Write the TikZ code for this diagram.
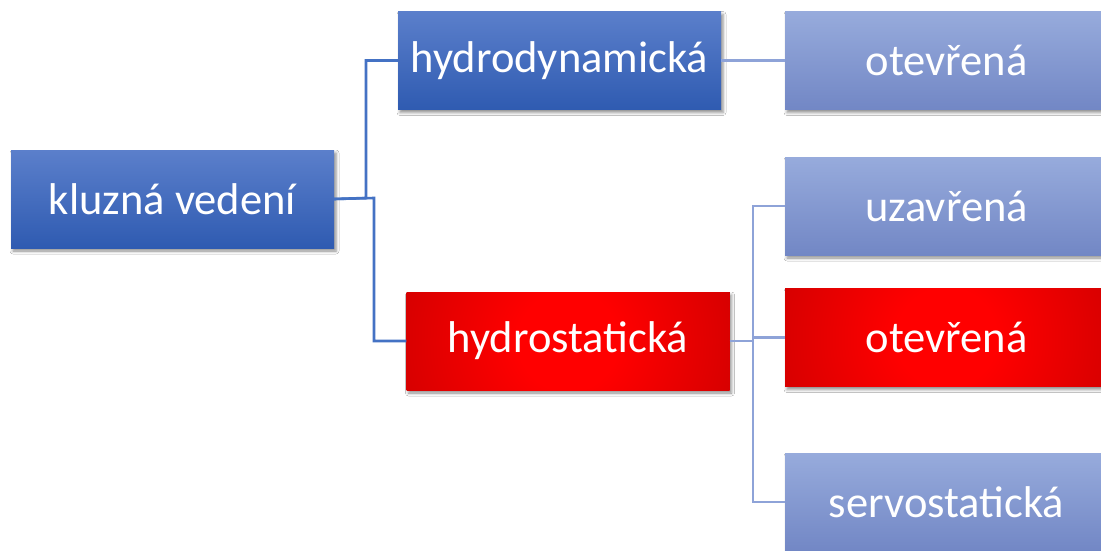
\documentclass[tikz,border=0pt]{standalone}
\usepackage{fontspec}
\setmainfont{Carlito}
\usetikzlibrary{shadows.blur}
\definecolor{dbtop}{HTML}{5B7FCB}
\definecolor{dbbot}{HTML}{2F5BB1}
\definecolor{lbtop}{HTML}{97ABDC}
\definecolor{lbbot}{HTML}{7287C5}
\definecolor{lineA}{HTML}{4472C4}
\definecolor{lineB}{HTML}{8EA3D8}
\definecolor{redE}{HTML}{BC0000}
\pgfdeclareradialshading{redglow}{\pgfpoint{0bp}{0bp}}{color(0bp)=(red); color(5bp)=(red); color(25bp)=(redE); color(50bp)=(redE)}
\tikzset{
  box/.style={minimum width=323pt, minimum height=98pt, inner sep=0pt, text=white,
    font=\fontsize{44.5}{50}\selectfont,
    blur shadow={shadow xshift=2pt, shadow yshift=-3pt, shadow blur radius=3pt, shadow opacity=45}},
  darkbox/.style={box, top color=dbtop, bottom color=dbbot},
  lightbox/.style={box, top color=lbtop, bottom color=lbbot},
  redbox/.style={box, fill=redE, path picture={
    \shade[shading=redglow] (path picture bounding box.center) circle (250pt);}},
  linkA/.style={draw=lineA, line width=2.6pt},
  linkB/.style={draw=lineB, line width=2.6pt}
}
\begin{document}
\begin{tikzpicture}[x=1pt,y=-1pt]
\useasboundingbox[fill=white] (0,0) rectangle (1101,551);
\node[darkbox] (k) at (172.5,199) {kluzná vedení};
\node[darkbox] (hd) at (559.5,60.5) {hydrodynamická};
\node[redbox] (hs) at (568,341) {hydrostatická};
\node[lightbox] (o1) at (946.5,60.5) {otevřená};
\node[lightbox] (uz) at (946.5,206) {uzavřená};
\node[redbox] (o2) at (946.5,337.5) {otevřená};
\node[lightbox] (sv) at (946.5,502) {servostatická};
\coordinate (ea) at (366,198);
\coordinate (eb) at (374,198);
\coordinate (ec) at (753,341);
\draw[linkA] (k.east) -- (eb) |- (hs.west);
\draw[linkA] (k.east) -- (ea) |- (hd.west);
\draw[linkB] (hd.east) -- (o1.west);
\draw[linkB] (hs.east) -- (ec) |- (uz.west);
\draw[linkB] (ec) |- (o2.west);
\draw[linkB] (ec) |- (sv.west);
\end{tikzpicture}
\end{document}
